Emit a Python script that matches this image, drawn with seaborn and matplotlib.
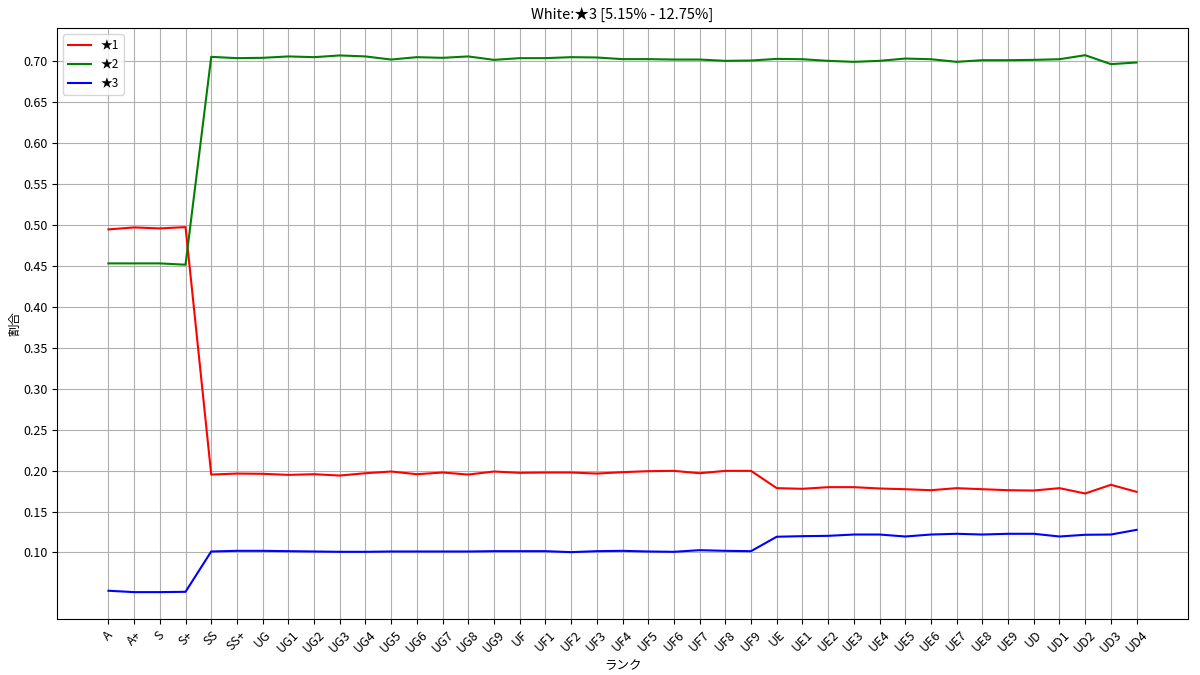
import numpy as np
import matplotlib
matplotlib.use("Agg")
import matplotlib.pyplot as plt
import seaborn as sns

# rank categories on the x axis
ranks = ["A", "A+", "S", "S+", "SS", "SS+",
         "UG", "UG1", "UG2", "UG3", "UG4", "UG5", "UG6", "UG7", "UG8", "UG9",
         "UF", "UF1", "UF2", "UF3", "UF4", "UF5", "UF6", "UF7", "UF8", "UF9",
         "UE", "UE1", "UE2", "UE3", "UE4", "UE5", "UE6", "UE7", "UE8", "UE9",
         "UD", "UD1", "UD2", "UD3", "UD4"]

# share of each star count per rank
star1 = [0.4943, 0.4967, 0.4955, 0.4971, 0.1951, 0.1963,
         0.1960, 0.1947, 0.1955, 0.1939, 0.1967, 0.1988, 0.1955, 0.1976, 0.1951, 0.1988,
         0.1972, 0.1976, 0.1976, 0.1963, 0.1980, 0.1992, 0.1996, 0.1967, 0.1996, 0.1996,
         0.1785, 0.1777, 0.1797, 0.1797, 0.1781, 0.1772, 0.1760, 0.1785, 0.1772, 0.1760,
         0.1756, 0.1785, 0.1720, 0.1826, 0.1740]

star2 = [0.4528, 0.4528, 0.4528, 0.4512, 0.7049, 0.7033,
         0.7037, 0.7054, 0.7045, 0.7066, 0.7054, 0.7016, 0.7045, 0.7037, 0.7054, 0.7012,
         0.7033, 0.7033, 0.7045, 0.7041, 0.7021, 0.7021, 0.7016, 0.7016, 0.7000, 0.7004,
         0.7024, 0.7020, 0.7000, 0.6988, 0.7000, 0.7028, 0.7020, 0.6988, 0.7008, 0.7008,
         0.7012, 0.7020, 0.7069, 0.6960, 0.6980]

star3 = [0.0533, 0.0516, 0.0516, 0.0520, 0.1012, 0.1020,
         0.1020, 0.1016, 0.1012, 0.1008, 0.1008, 0.1012, 0.1012, 0.1012, 0.1012, 0.1016,
         0.1016, 0.1016, 0.1004, 0.1016, 0.1020, 0.1012, 0.1008, 0.1028, 0.1020, 0.1016,
         0.1192, 0.1199, 0.1203, 0.1219, 0.1219, 0.1195, 0.1219, 0.1228, 0.1219, 0.1228,
         0.1228, 0.1195, 0.1216, 0.1219, 0.1276]

series = [("★1", star1, "red"), ("★2", star2, "green"), ("★3", star3, "blue")]


def main():
    plt.rcParams["font.family"] = ["Noto Sans CJK JP", "DejaVu Sans"]
    plt.rcParams["font.size"] = 9

    fig, ax = plt.subplots(figsize=(12, 6.75), dpi=100)

    for name, vals, color in series:
        sns.lineplot(x=ranks, y=vals, color=color, label=name, sort=False, ax=ax)

    ax.set_yticks(np.arange(0.10, 0.701, 0.05))
    ax.grid(True)
    ax.legend(loc="upper left", fontsize=8.5)

    ax.set_title("White:★3 [5.15% - 12.75%]", fontsize=10.5)
    ax.set_xlabel("ランク", labelpad=3)
    ax.set_ylabel("割合", labelpad=1)
    plt.xticks(rotation=45)
    plt.subplots_adjust(left=0.0475, right=0.99, top=0.958, bottom=0.083)

    plt.savefig("out.png")
    plt.close()


if __name__ == "__main__":
    main()
